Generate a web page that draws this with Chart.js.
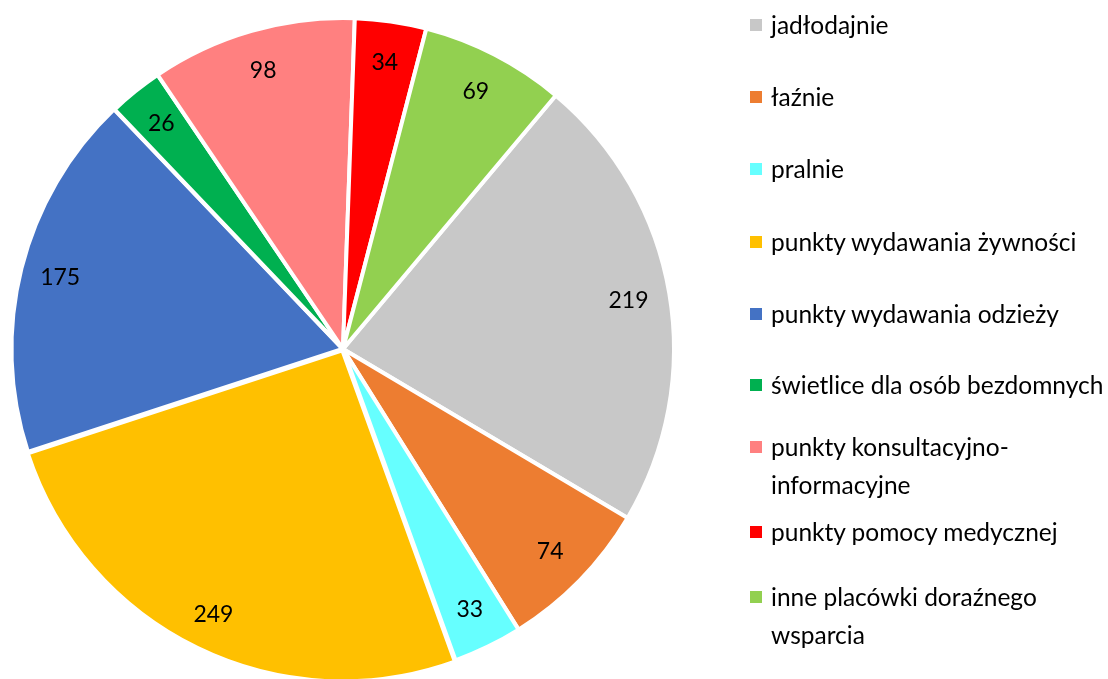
<!DOCTYPE html>
<html>
<head>
<meta charset="utf-8">
<script src="https://cdn.jsdelivr.net/npm/chart.js@4/dist/chart.umd.min.js"></script>
<style>
  html, body { margin: 0; padding: 0; background: #fff; overflow: hidden; }
  #wrap { position: absolute; left: 0; top: 0; width: 700px; height: 700px; }
  #legenda { position: absolute; left: 0; top: 0; width: 1108px; height: 679px; pointer-events: none;
    font-family: Lato, 'Open Sans', sans-serif; font-size: 24.5px; color: #000; }
  .poz { position: absolute; left: 750px; line-height: 38px; }
  .kw { position: absolute; left: 0; top: 13px; width: 12px; height: 12px; }
  .tx { position: absolute; left: 21px; white-space: nowrap; }
</style>
</head>
<body>
<div id="wrap"><canvas id="wykres"></canvas></div>
<div id="legenda"></div>
<script>
// dane
const kategorie = [
  'jadłodajnie',
  'łaźnie',
  'pralnie',
  'punkty wydawania żywności',
  'punkty wydawania odzieży',
  'świetlice dla osób bezdomnych',
  ['punkty konsultacyjno-', 'informacyjne'],
  'punkty pomocy medycznej',
  ['inne placówki doraźnego', 'wsparcia']
];
const wartosci = [219, 74, 33, 249, 175, 26, 98, 34, 69];
const kolory = ['#C8C8C8', '#ED7D31', '#66FFFF', '#FFC000', '#4472C4', '#00B050', '#FF8080', '#FF0000', '#92D050'];

// polozenie wierszy legendy (srodek pierwszej linii, px)
const legendaY = [25, 97, 169, 242, 314, 385, 447, 532, 597];

const leg = document.getElementById('legenda');
kategorie.forEach((k, i) => {
  const linie = Array.isArray(k) ? k : [k];
  const d = document.createElement('div');
  d.className = 'poz';
  d.style.top = (legendaY[i] - 19) + 'px';
  d.innerHTML = '<div class="kw" style="background:' + kolory[i] + '"></div>' +
    '<div class="tx">' + linie.join('<br>') + '</div>';
  leg.appendChild(d);
});

// etykiety z wartosciami na wycinkach
const etykiety = {
  id: 'etykiety',
  afterDatasetsDraw(chart) {
    const ctx = chart.ctx;
    const meta = chart.getDatasetMeta(0);
    ctx.save();
    ctx.font = '23px Lato';
    ctx.fillStyle = '#000';
    ctx.textAlign = 'center';
    ctx.textBaseline = 'middle';
    meta.data.forEach((arc, i) => {
      const p = arc.getProps(['x', 'y', 'startAngle', 'endAngle', 'outerRadius'], true);
      const kat = (p.startAngle + p.endAngle) / 2;
      const off = arc.options.offset || 0;
      const r = p.outerRadius * 0.875 + off;
      ctx.fillText(String(wartosci[i]), p.x + Math.cos(kat) * r, p.y + Math.sin(kat) * r);
    });
    ctx.restore();
  }
};

const wykres = new Chart(document.getElementById('wykres'), {
  type: 'pie',
  data: {
    labels: kategorie.map(k => Array.isArray(k) ? k.join('') : k),
    datasets: [{
      data: wartosci,
      backgroundColor: kolory,
      borderColor: '#fff',
      borderWidth: 4,
      hoverBorderWidth: 4,
      offset: [0, 0, 0, 6, 2, 0, 0, 0, 0],
      hoverOffset: 0
    }]
  },
  options: {
    responsive: true,
    maintainAspectRatio: false,
    animation: false,
    rotation: 40,
    layout: { padding: { left: 7, right: 21, top: 13, bottom: 15 } },
    plugins: {
      legend: { display: false },
      tooltip: { enabled: false }
    }
  },
  plugins: [etykiety]
});
</script>
</body>
</html>
